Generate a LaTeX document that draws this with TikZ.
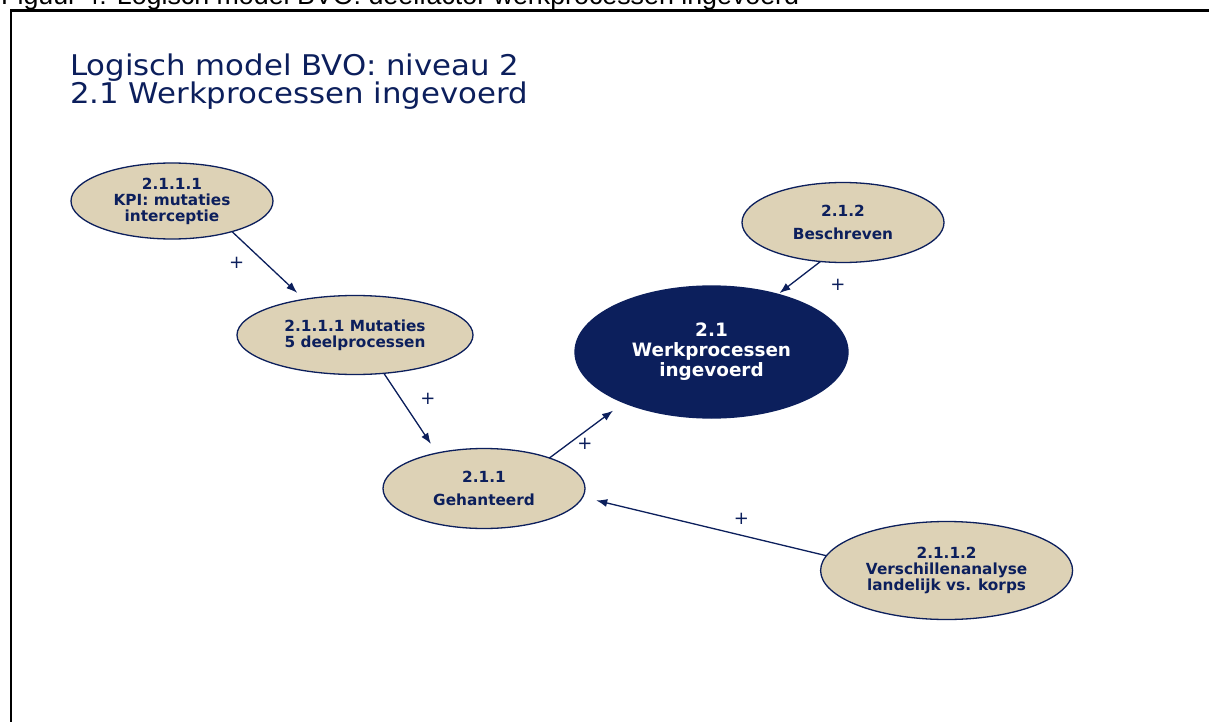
\documentclass[tikz,border=0pt]{standalone}
\usepackage{fontspec}
\setmainfont{DejaVu Sans}
\newfontfamily\capfont{Liberation Sans}
\newfontfamily\titlefont[FakeStretch=1.08]{DejaVu Sans}
\usetikzlibrary{shapes.geometric,arrows.meta}
\definecolor{navy}{RGB}{12,31,92}
\definecolor{beige}{RGB}{221,210,182}
\tikzset{
  factor/.style={ellipse, draw=navy, line width=1.3pt, fill=beige, inner sep=0pt, outer sep=0pt,
    text=navy, align=center, font=\bfseries\fontsize{15.3}{16}\selectfont},
  mainfactor/.style={ellipse, draw=navy, line width=1.3pt, fill=navy, inner sep=0pt, outer sep=0pt,
    text=white, align=center, font=\bfseries\fontsize{18.4}{20}\selectfont},
  arr/.style={draw=navy, line width=1.3pt, -{Latex[length=11pt,width=8pt]}},
  plus/.style={text=navy, inner sep=0pt, font=\fontsize{18}{18}\selectfont},
  titletext/.style={anchor=base west, inner sep=0pt, text=navy, font=\titlefont\fontsize{28.5}{28.5}\selectfont},
}
\begin{document}
\begin{tikzpicture}[x=1pt,y=-1pt]
\useasboundingbox (0,0) rectangle (1209,722);
\clip (0,0) rectangle (1209,722);
\fill[white] (0,0) rectangle (1209,722);
% caption (cut off at the top) and frame
\node[anchor=base west, inner sep=0pt, font=\capfont\fontsize{26.8}{26.8}\selectfont] (cap) at (1,5)
  {Figuur 4: Logisch model BVO: deelfactor werkprocessen ingevoerd};
\draw[line width=2.2pt] (11,740) -- (11,10.5) -- (1230,10.5);
% title
\node[titletext] (t1) at (70,76) {Logisch model BVO: niveau 2};
\node[titletext] (t2) at (70,104) {2.1 Werkprocessen ingevoerd};
% factors
\node[factor, minimum width=202pt, minimum height=76pt] (kpi) at (172,201)
  {2.1.1.1\\KPI: mutaties\\interceptie};
\node[factor, minimum width=236pt, minimum height=79pt] (mut) at (355,335)
  {2.1.1.1 Mutaties\\5 deelprocessen};
\node[factor, minimum width=202pt, minimum height=80pt] (geh) at (484,488.5)
  {2.1.1\\[7pt]Gehanteerd};
\node[factor, minimum width=202pt, minimum height=80pt] (besch) at (843,222.5)
  {2.1.2\\[7pt]Beschreven};
\node[mainfactor, minimum width=273pt, minimum height=132pt] (main) at (711.5,352)
  {2.1\\Werkprocessen\\ingevoerd};
\node[factor, minimum width=252pt, minimum height=98pt] (ver) at (946.6,570.5)
  {2.1.1.2\\Verschillenanalyse\\landelijk vs. korps};
% connectors
\draw[arr, shorten >=9.5pt] (kpi.-27) -- (mut.145);
\draw[arr, shorten >=11pt] (mut.-53.5) -- (geh.143.6);
\draw[arr, shorten >=13.5pt] (geh.25.8) -- (main.-150.4);
\draw[arr, shorten >=2pt] (besch.-120) -- (main.41.2);
\draw[arr, shorten >=14pt] (ver.173.2) -- (geh.-5.9);
% signs
\node[plus] (p1) at (236.7,262.7) {+};
\node[plus] (p2) at (428,399) {+};
\node[plus] (p3) at (585,444) {+};
\node[plus] (p4) at (838,285) {+};
\node[plus] (p5) at (741.5,519) {+};
\end{tikzpicture}
\end{document}
